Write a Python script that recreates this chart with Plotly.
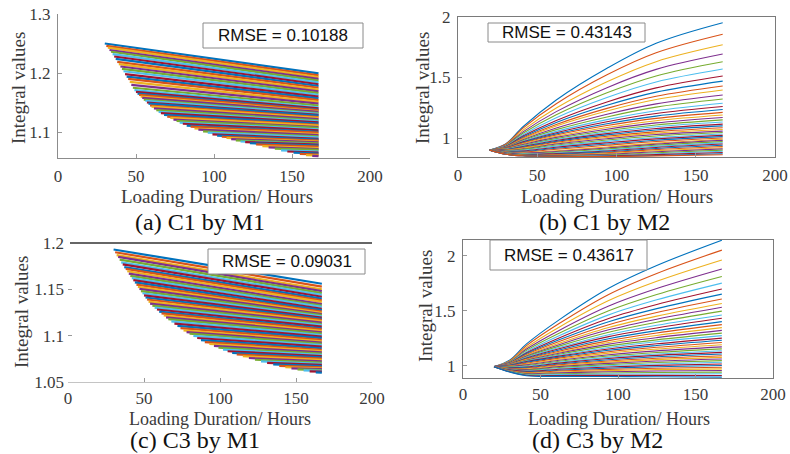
import plotly.graph_objects as go

# MATLAB default line colour order
colors = ['#0072BD', '#D95319', '#EDB120', '#7E2F8E', '#77AC30', '#4DBEEE', '#A2142F']

hours = [0, 50, 100, 150, 200]
end_hour = 167

# (a) C1 by M1 - every curve starts on the lower-left edge and runs to 167 h
a_start_x = [30, 31, 32, 33, 34, 35, 36, 37, 38, 39, 40, 41, 42, 43, 44, 45, 46, 47, 48,
             49, 50, 51, 52, 53, 54, 55, 56, 57, 58, 59, 60, 61.5, 63, 64.5, 66,
             68, 70, 72, 74, 76, 78, 80, 82.5, 85, 87.5, 90,
             93, 96, 99, 102, 105, 108, 111, 114, 117, 120, 123,
             127, 131, 135, 139, 143, 147, 151, 155, 159, 163]
a_start_y = [1.250, 1.246, 1.243, 1.239, 1.236, 1.232, 1.228, 1.224, 1.219, 1.215, 1.211,
             1.207, 1.203, 1.198, 1.194, 1.190, 1.185, 1.180, 1.175,
             1.171, 1.168, 1.165, 1.163, 1.160, 1.158, 1.155, 1.153, 1.150, 1.148, 1.145, 1.143,
             1.140, 1.137, 1.134, 1.132,
             1.129, 1.126, 1.124, 1.121, 1.119, 1.116, 1.114, 1.111, 1.109, 1.106, 1.104,
             1.101, 1.099, 1.096, 1.094, 1.092, 1.090, 1.088, 1.086, 1.084, 1.083, 1.081,
             1.079, 1.076, 1.074, 1.072, 1.069, 1.067, 1.065, 1.063, 1.061, 1.0595]
a_end_y = [1.1995, 1.196, 1.193, 1.190, 1.187, 1.184, 1.181, 1.178, 1.175, 1.172, 1.169,
           1.166, 1.163, 1.160, 1.157, 1.154, 1.151, 1.148, 1.145,
           1.142, 1.140, 1.138, 1.137, 1.135, 1.134, 1.132, 1.131, 1.129, 1.128, 1.1255, 1.124,
           1.122, 1.120, 1.118, 1.1165,
           1.1145, 1.112, 1.111, 1.1085, 1.107, 1.1045, 1.103, 1.1005, 1.099, 1.0965, 1.095,
           1.0925, 1.091, 1.0885, 1.087, 1.0855, 1.084, 1.0825, 1.081, 1.0793, 1.0786, 1.077,
           1.0754, 1.0728, 1.0712, 1.0696, 1.067, 1.0653, 1.0636, 1.0619, 1.0602, 1.0591]

# (c) C3 by M1
c_start_x = [30, 31, 32, 33, 34, 35, 36, 37, 38, 39, 40, 41, 42, 43, 44, 45, 46, 47, 48,
             49, 50, 51, 52, 53, 54, 55.5, 57, 58.5, 60, 61.5, 63, 64.5, 66,
             68, 70, 72, 74, 76, 78, 80, 82.5, 85, 87.5, 90,
             93, 96, 99, 102, 105, 108, 111,
             115, 119, 123, 127, 131, 135, 139, 143, 147, 151, 155, 159, 163]
c_start_y = [1.193, 1.190, 1.187, 1.185, 1.182, 1.179, 1.177, 1.174, 1.172, 1.1695,
             1.167, 1.1645, 1.162, 1.160, 1.1575, 1.155, 1.1527, 1.1504, 1.1481,
             1.1458, 1.1435, 1.1412, 1.1390, 1.1367, 1.1345, 1.1324, 1.1303, 1.1282,
             1.126, 1.124, 1.1218, 1.1197, 1.1178,
             1.1154, 1.113, 1.1106, 1.1082, 1.1058, 1.1039, 1.1021, 1.0998, 1.0975, 1.0952, 1.093,
             1.091, 1.089, 1.087, 1.085, 1.0832, 1.0813, 1.0797,
             1.0778, 1.0759, 1.0740, 1.0722, 1.0706, 1.0690, 1.0674, 1.0659, 1.0648,
             1.0637, 1.0626, 1.0615, 1.0603]
c_end_y = [1.156, 1.153, 1.150, 1.148, 1.146, 1.144, 1.142, 1.140, 1.138, 1.1365,
           1.134, 1.1325, 1.131, 1.129, 1.1275, 1.126, 1.1247, 1.1234, 1.1221,
           1.1208, 1.1195, 1.1182, 1.117, 1.1157, 1.114, 1.1126, 1.1113, 1.1097,
           1.108, 1.1067, 1.1051, 1.1037, 1.1023,
           1.1006, 1.099, 1.0973, 1.0955, 1.0938, 1.0925, 1.0913, 1.0897, 1.0881, 1.0864, 1.0848,
           1.0834, 1.082, 1.0806, 1.0792, 1.0779, 1.0765, 1.0753,
           1.0739, 1.0724, 1.071, 1.0696, 1.0684, 1.0671, 1.0658, 1.0646, 1.0638,
           1.0629, 1.062, 1.0611, 1.0601]

# (b) C1 by M2 - curves sampled at these hours
b_x = [20, 30, 41, 62, 94, 125, 167]
b_curves = [
    [0.90, 0.950, 1.093, 1.314, 1.576, 1.783, 1.953],
    [0.90, 0.948, 1.082, 1.283, 1.522, 1.704, 1.857],
    [0.90, 0.943, 1.065, 1.248, 1.465, 1.631, 1.770],
    [0.90, 0.940, 1.051, 1.218, 1.416, 1.567, 1.694],
    [0.90, 0.936, 1.039, 1.192, 1.374, 1.513, 1.630],
    [0.90, 0.933, 1.027, 1.168, 1.335, 1.463, 1.570],
    [0.90, 0.930, 1.016, 1.145, 1.298, 1.414, 1.512],
    [0.90, 0.928, 1.008, 1.128, 1.270, 1.379, 1.470],
    [0.90, 0.926, 1.000, 1.112, 1.245, 1.345, 1.430],
    [0.90, 0.924, 0.994, 1.099, 1.223, 1.318, 1.397],
    [0.90, 0.922, 0.986, 1.082, 1.196, 1.282, 1.355],
    [0.90, 0.920, 0.980, 1.069, 1.174, 1.255, 1.322],
    [0.90, 0.918, 0.973, 1.055, 1.152, 1.225, 1.287],
    [0.90, 0.917, 0.968, 1.044, 1.134, 1.202, 1.260],
    [0.90, 0.915, 0.963, 1.034, 1.118, 1.181, 1.235],
    [0.90, 0.914, 0.959, 1.025, 1.103, 1.162, 1.212],
    [0.90, 0.912, 0.953, 1.014, 1.087, 1.143, 1.190],
    [0.90, 0.910, 0.947, 1.005, 1.073, 1.125, 1.170],
    [0.90, 0.908, 0.940, 0.995, 1.060, 1.108, 1.150],
    [0.90, 0.906, 0.935, 0.987, 1.048, 1.093, 1.132],
    [0.90, 0.904, 0.930, 0.979, 1.036, 1.079, 1.115],
    [0.90, 0.902, 0.925, 0.972, 1.026, 1.066, 1.100],
    [0.90, 0.900, 0.920, 0.965, 1.015, 1.053, 1.085],
    [0.90, 0.898, 0.915, 0.957, 1.004, 1.040, 1.070],
    [0.90, 0.897, 0.910, 0.950, 0.994, 1.029, 1.057],
    [0.90, 0.895, 0.905, 0.942, 0.984, 1.017, 1.045],
    [0.90, 0.892, 0.898, 0.933, 0.972, 1.004, 1.033],
    [0.90, 0.890, 0.893, 0.924, 0.961, 0.993, 1.022],
    [0.90, 0.888, 0.888, 0.915, 0.950, 0.982, 1.011],
    [0.90, 0.886, 0.883, 0.907, 0.940, 0.971, 1.000],
    [0.90, 0.884, 0.878, 0.895, 0.926, 0.958, 0.990],
    [0.90, 0.882, 0.874, 0.888, 0.917, 0.949, 0.980],
    [0.90, 0.880, 0.870, 0.882, 0.909, 0.940, 0.970],
    [0.90, 0.878, 0.867, 0.876, 0.900, 0.931, 0.960],
    [0.90, 0.876, 0.864, 0.871, 0.892, 0.922, 0.950],
    [0.90, 0.874, 0.861, 0.866, 0.885, 0.913, 0.940],
    [0.90, 0.872, 0.859, 0.862, 0.878, 0.904, 0.930],
    [0.90, 0.870, 0.857, 0.858, 0.871, 0.895, 0.920],
    [0.90, 0.869, 0.856, 0.855, 0.865, 0.886, 0.910],
    [0.90, 0.868, 0.855, 0.853, 0.860, 0.878, 0.900],
    [0.90, 0.867, 0.854, 0.851, 0.855, 0.870, 0.890],
    [0.90, 0.866, 0.853, 0.850, 0.851, 0.863, 0.880],
    [0.90, 0.866, 0.853, 0.849, 0.848, 0.856, 0.870],
    [0.90, 0.866, 0.853, 0.849, 0.847, 0.852, 0.862],
]

# (d) C3 by M2
d_x = [20, 30, 41, 62, 94, 125, 167]
d_curves = [
    [0.99, 1.048, 1.197, 1.416, 1.703, 1.910, 2.140],
    [0.99, 1.043, 1.181, 1.382, 1.647, 1.838, 2.050],
    [0.99, 1.039, 1.165, 1.349, 1.591, 1.766, 1.960],
    [0.99, 1.034, 1.150, 1.319, 1.541, 1.700, 1.878],
    [0.99, 1.031, 1.138, 1.293, 1.498, 1.646, 1.810],
    [0.99, 1.028, 1.127, 1.271, 1.461, 1.598, 1.750],
    [0.99, 1.025, 1.117, 1.251, 1.428, 1.555, 1.696],
    [0.99, 1.023, 1.109, 1.234, 1.399, 1.518, 1.650],
    [0.99, 1.021, 1.101, 1.218, 1.371, 1.482, 1.605],
    [0.99, 1.019, 1.094, 1.203, 1.347, 1.450, 1.565],
    [0.99, 1.017, 1.087, 1.190, 1.325, 1.422, 1.530],
    [0.99, 1.015, 1.081, 1.177, 1.303, 1.394, 1.495],
    [0.99, 1.013, 1.075, 1.164, 1.281, 1.366, 1.460],
    [0.99, 1.012, 1.069, 1.153, 1.263, 1.342, 1.430],
    [0.99, 1.010, 1.064, 1.142, 1.244, 1.318, 1.400],
    [0.99, 1.009, 1.059, 1.131, 1.227, 1.296, 1.372],
    [0.99, 1.008, 1.054, 1.121, 1.210, 1.274, 1.345],
    [0.99, 1.006, 1.049, 1.112, 1.195, 1.254, 1.320],
    [0.99, 1.005, 1.045, 1.103, 1.179, 1.234, 1.295],
    [0.99, 1.004, 1.041, 1.094, 1.165, 1.216, 1.272],
    [0.99, 1.003, 1.037, 1.086, 1.151, 1.198, 1.250],
    [0.99, 1.000, 1.030, 1.077, 1.139, 1.182, 1.230],
    [0.99, 0.997, 1.022, 1.068, 1.126, 1.166, 1.210],
    [0.99, 0.994, 1.014, 1.058, 1.113, 1.150, 1.190],
    [0.99, 0.991, 1.006, 1.048, 1.099, 1.134, 1.170],
    [0.99, 0.988, 0.999, 1.039, 1.087, 1.119, 1.152],
    [0.99, 0.985, 0.993, 1.030, 1.075, 1.105, 1.135],
    [0.99, 0.982, 0.987, 1.022, 1.064, 1.093, 1.120],
    [0.99, 0.979, 0.981, 1.014, 1.053, 1.080, 1.105],
    [0.99, 0.976, 0.975, 1.006, 1.042, 1.067, 1.090],
    [0.99, 0.973, 0.969, 0.998, 1.031, 1.054, 1.075],
    [0.99, 0.970, 0.963, 0.990, 1.020, 1.041, 1.060],
    [0.99, 0.967, 0.957, 0.982, 1.009, 1.028, 1.045],
    [0.99, 0.964, 0.952, 0.974, 0.998, 1.015, 1.030],
    [0.99, 0.961, 0.947, 0.966, 0.987, 1.002, 1.015],
    [0.99, 0.958, 0.942, 0.958, 0.976, 0.989, 1.000],
    [0.99, 0.955, 0.937, 0.950, 0.965, 0.976, 0.985],
    [0.99, 0.952, 0.932, 0.942, 0.954, 0.963, 0.970],
    [0.99, 0.950, 0.927, 0.934, 0.944, 0.950, 0.955],
    [0.99, 0.948, 0.922, 0.926, 0.933, 0.937, 0.940],
    [0.99, 0.946, 0.917, 0.918, 0.922, 0.924, 0.925],
    [0.99, 0.944, 0.912, 0.910, 0.911, 0.911, 0.910],
    [0.99, 0.942, 0.908, 0.902, 0.900, 0.898, 0.895],
]

rmse = ['RMSE = 0.10188', 'RMSE = 0.43143', 'RMSE = 0.09031', 'RMSE = 0.43617']
captions = ['(a) C1 by M1', '(b) C1 by M2', '(c) C3 by M1', '(d) C3 by M2']

W, H = 790, 454
serif = 'Liberation Serif'
sans = 'Liberation Sans'
text_col = '#3a3a3a'


def px(x):
    return x / W


def py(y):
    return 1 - y / H


fig = go.Figure()

# dense fans for M1 (short straight curves, thick enough to fill the band)
for i, (xs, ys, ye) in enumerate(zip(a_start_x, a_start_y, a_end_y)):
    fig.add_trace(go.Scatter(x=[xs, end_hour], y=[ys, ye], mode='lines',
                             line=dict(color=colors[i % 7], width=2.2),
                             xaxis='x', yaxis='y', hoverinfo='skip', showlegend=False))
for i, (xs, ys, ye) in enumerate(zip(c_start_x, c_start_y, c_end_y)):
    fig.add_trace(go.Scatter(x=[xs, end_hour], y=[ys, ye], mode='lines',
                             line=dict(color=colors[i % 7], width=2.2),
                             xaxis='x3', yaxis='y3', hoverinfo='skip', showlegend=False))

# M2 fans
for i, row in enumerate(b_curves):
    fig.add_trace(go.Scatter(x=b_x, y=row, mode='lines',
                             line=dict(color=colors[i % 7], width=1.1, shape='spline'),
                             xaxis='x2', yaxis='y2', hoverinfo='skip', showlegend=False))
for i, row in enumerate(d_curves):
    fig.add_trace(go.Scatter(x=d_x, y=row, mode='lines',
                             line=dict(color=colors[i % 7], width=1.1, shape='spline'),
                             xaxis='x4', yaxis='y4', hoverinfo='skip', showlegend=False))

tick_font = dict(family=serif, size=17, color=text_col)


def xax(left, right, anchor, line_col, mirror, standoff=3):
    return dict(domain=[px(left), px(right)], range=[0, 200], tickvals=hours, anchor=anchor,
                showgrid=False, zeroline=False, showline=True, linecolor=line_col, linewidth=1,
                mirror=mirror, ticks='inside', ticklen=4, tickcolor='#999', automargin=False,
                tickfont=tick_font, ticklabelstandoff=standoff)


def yax(top, bottom, rng, ticks, anchor, line, line_col, mirror):
    return dict(domain=[py(bottom), py(top)], range=rng, tickvals=ticks, anchor=anchor,
                showgrid=False, zeroline=False, showline=line, linecolor=line_col, linewidth=1,
                mirror=mirror, ticks='inside', ticklen=4, tickcolor='#999', automargin=False,
                tickfont=tick_font, ticklabelstandoff=3)


fig.update_layout(
    width=W, height=H, margin=dict(l=0, r=0, t=0, b=0),
    paper_bgcolor='white', plot_bgcolor='white', showlegend=False,
    xaxis=xax(58, 370, 'y', '#8c8c8c', False),
    yaxis=yax(14, 158, [1.056, 1.3], [1.1, 1.2, 1.3], 'x', True, '#8c8c8c', False),
    xaxis2=xax(458, 775, 'y2', '#7a7a7a', True),
    yaxis2=yax(17, 157, [0.843, 2.0], [1, 1.5, 2], 'x2', True, '#7a7a7a', True),
    xaxis3=xax(68, 372, 'y3', '#c4c4c4', False, standoff=1),
    yaxis3=yax(243, 382, [1.05, 1.2], [1.05, 1.1, 1.15, 1.2], 'x3', False, '#c4c4c4', False),
    xaxis4=xax(463, 773, 'y4', '#7a7a7a', True, standoff=1),
    yaxis4=yax(240, 378, [0.887, 2.142], [1, 1.5, 2], 'x4', True, '#7a7a7a', True),
)

shapes = [dict(type='line', xref='paper', yref='paper', x0=px(70), x1=px(372),
               y0=py(243), y1=py(243), line=dict(color='#333333', width=1.3))]

# RMSE boxes (left, top, right, bottom in pixels)
boxes = [(203, 23, 363, 48), (488, 23, 645, 42), (208, 249, 365, 274), (490, 240, 647, 270)]
annotations = []
for (l, t, r, b), txt in zip(boxes, rmse):
    shapes.append(dict(type='rect', xref='paper', yref='paper', x0=px(l), x1=px(r),
                       y0=py(b), y1=py(t), line=dict(color='#8a8a8a', width=1),
                       fillcolor='white', layer='above'))
    annotations.append(dict(text=txt, xref='paper', yref='paper', x=px((l + r) / 2),
                            y=py((t + b) / 2), xanchor='center', yanchor='middle',
                            showarrow=False, font=dict(family=sans, size=17, color='#111111')))

# axis titles
for x, y, s in [(217, 196, 19), (617, 196, 19), (220, 419, 18), (619, 419, 18)]:
    annotations.append(dict(text='Loading Duration/ Hours', xref='paper', yref='paper',
                            x=px(x), y=py(y), xanchor='center', yanchor='middle',
                            showarrow=False, font=dict(family=serif, size=s, color=text_col)))
for x, y in [(19, 88), (423, 88), (21, 312), (425, 306)]:
    annotations.append(dict(text='Integral values', xref='paper', yref='paper',
                            x=px(x), y=py(y), xanchor='center', yanchor='middle',
                            showarrow=False, textangle=-90,
                            font=dict(family=serif, size=19, color=text_col)))

# sub-figure captions
for (x, y), txt in zip([(200, 222), (604, 222), (195, 440), (597, 440)], captions):
    annotations.append(dict(text=txt, xref='paper', yref='paper', x=px(x), y=py(y),
                            xanchor='center', yanchor='middle', showarrow=False,
                            font=dict(family=serif, size=24, color='#111111')))

fig.update_layout(shapes=shapes, annotations=annotations)

# the page body has a default 8px margin; drop it so the figure sits at the window corner
fig.write_html("out.html", config={'displayModeBar': False},
               post_script="document.body.style.margin='0px';")
